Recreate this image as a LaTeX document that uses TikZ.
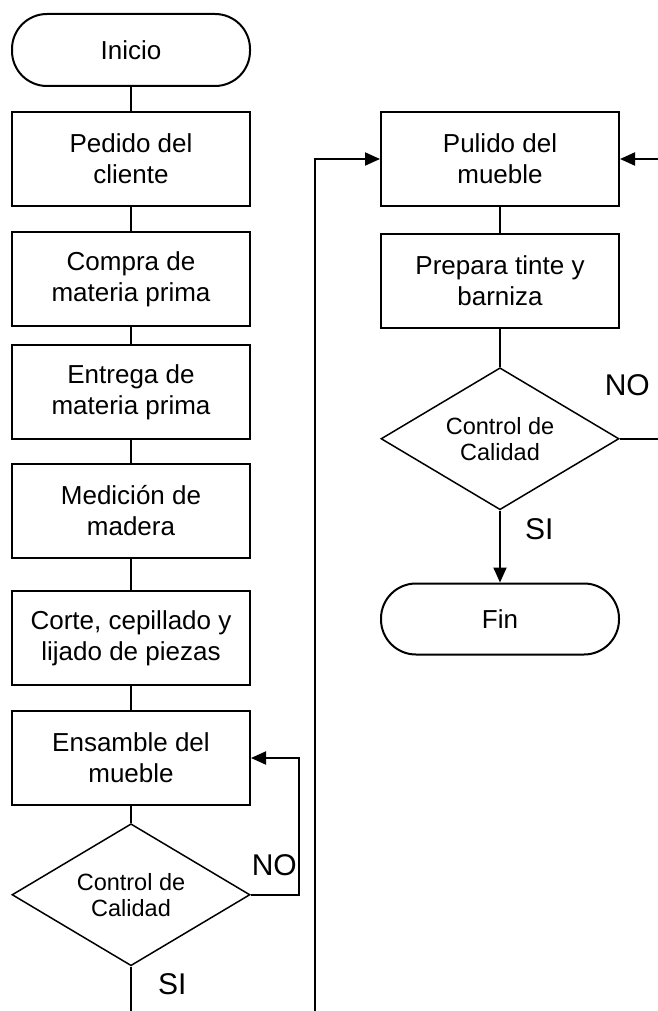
\documentclass[tikz,border=0pt]{standalone}
\usepackage{fontspec}
\setmainfont{Liberation Sans}
\usetikzlibrary{arrows.meta,positioning,shapes.geometric}

\begin{document}
\begin{tikzpicture}[>={Triangle[length=15pt,width=13pt]},line width=2pt,node distance=24pt,
				proc/.style={rectangle,draw,minimum width=238pt,minimum height=94pt,align=center,font=\fontsize{26}{31}\selectfont},
				term/.style={rectangle,draw,rounded corners=35pt,minimum width=238pt,minimum height=72pt,font=\fontsize{26}{31}\selectfont},
				decision/.style={diamond,draw,line width=1.5pt,aspect=1.667,minimum width=238pt,minimum height=142pt,inner sep=0pt,align=center,font=\fontsize{23.5}{26}\selectfont},
				lbl/.style={inner sep=0pt,anchor=south west,font=\fontsize{30}{36}\selectfont}]
				
				\useasboundingbox (0,0) rectangle (657pt,-1011pt);
				
				% columna izquierda
				\node[term] (inicio) at (131pt,-50pt) {Inicio};
				\node[proc] (pedido) [below=24pt of inicio] {Pedido del\\cliente};
				\node[proc] (compra) [below=24pt of pedido] {Compra de\\materia prima};
				\node[proc] (entrega) [below=17pt of compra] {Entrega de\\materia prima};
				\node[proc] (medicion) [below=23pt of entrega] {Medición de\\madera};
				\node[proc] (corte) [below=31pt of medicion] {Corte, cepillado y\\lijado de piezas};
				\node[proc] (ensamble) [below=24pt of corte] {Ensamble del\\mueble};
				\node[decision] (dl) [below=17pt of ensamble] {Control de\\Calidad};
				
				% columna derecha
				\node[proc] (pulido) [right=129pt of pedido] {Pulido del\\mueble};
				\node[proc] (prepara) [below=26pt of pulido] {Prepara tinte y\\barniza};
				\node[decision] (dr) [below=38pt of prepara] {Control de\\Calidad};
				\node[term,minimum height=71pt] (fin) [below=72pt of dr] {Fin};
				
				\coordinate (salida) at ([yshift=-60pt]dl.south);
				\coordinate (entrada) at (315pt,-1030pt);
				
				\path
				(inicio) edge (pedido)
				(pedido) edge (compra)
				(compra) edge (entrega)
				(entrega) edge (medicion)
				(medicion) edge (corte)
				(corte) edge (ensamble)
				(ensamble) edge (dl)
				(dl) edge (salida)
				(pulido) edge (prepara)
				(prepara) edge (dr)
				;
				\draw[->] (dr) -- (fin);
				\draw[->] (dl.east) -- ++(48pt,0) |- (ensamble.east);
				\draw[->] (dr.east) -- ++(39pt,0) |- (pulido.east);
				\draw[->] (entrada) |- (pulido.west);
				
				\node[lbl] (nol) at ([yshift=18pt]dl.east) {NO};
				\node[lbl] (sil) at ([xshift=26pt,yshift=-29pt]dl.south) {SI};
				\node[lbl] (nor) at ([xshift=-16pt,yshift=42pt]dr.east) {NO};
				\node[lbl] (sir) at ([xshift=24pt,yshift=-30pt]dr.south) {SI};
				\end{tikzpicture}
\end{document}
